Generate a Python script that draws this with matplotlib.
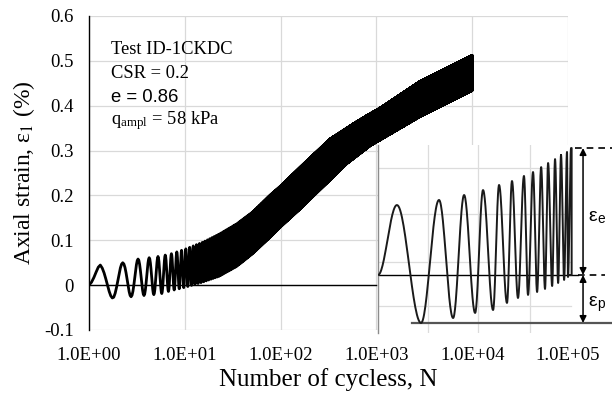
import matplotlib.pyplot as plt
import numpy as np

# main curve: upper / lower envelope of the cyclic strain
up_n = [1, 1.3, 2.3, 3.2, 5, 7, 10, 15.5, 23, 35, 51, 77, 100, 160, 330, 600, 860, 1100, 2850, 10000]
up_val = [0.0, 0.047, 0.050, 0.058, 0.063, 0.069, 0.080, 0.096, 0.114, 0.137, 0.163, 0.200,
          0.221, 0.263, 0.326, 0.362, 0.382, 0.395, 0.454, 0.512]
lo_n = [1, 1.8, 3.0, 5.5, 7, 10, 15.5, 23, 35, 51, 77, 100, 160, 218, 490, 860, 2850, 10000]
lo_val = [0.0, -0.030, -0.025, -0.020, -0.013, -0.005, 0.007, 0.020, 0.042, 0.070, 0.106,
          0.130, 0.170, 0.198, 0.271, 0.311, 0.376, 0.434]

# inset sketch: extrema of the schematic signal (normalised time, normalised strain)
peak_t = [0.098, 0.316, 0.446, 0.544, 0.627, 0.694, 0.756, 0.803, 0.845, 0.881, 0.917, 0.948, 0.979, 1.0]
peak_y = [0.551, 0.591, 0.630, 0.669, 0.709, 0.740, 0.780, 0.811, 0.850, 0.882, 0.913, 0.945, 0.969, 1.0]
trough_t = [0.223, 0.389, 0.503, 0.596, 0.668, 0.725, 0.777, 0.824, 0.865, 0.902, 0.933, 0.964, 0.984]
trough_y = [-0.378, -0.339, -0.299, -0.276, -0.220, -0.181, -0.157, -0.134, -0.110, -0.087, -0.063, -0.039, -0.016]

xticks = [1e0, 1e1, 1e2, 1e3, 1e4, 1e5]
xtick_labels = ["1.0E+00", "1.0E+01", "1.0E+02", "1.0E+03", "1.0E+04", "1.0E+05"]
yticks = [-0.1, 0, 0.1, 0.2, 0.3, 0.4, 0.5, 0.6]
ytick_labels = ["-0.1", "0", "0.1", "0.2", "0.3", "0.4", "0.5", "0.6"]

plt.rcParams["font.family"] = ["Liberation Serif", "DejaVu Serif"]
plt.rcParams["mathtext.fontset"] = "stix"

fig = plt.figure(figsize=(6.15, 3.96), dpi=100)
ax = fig.add_axes([89 / 615, 66 / 396, 479 / 615, 314 / 396])

# cyclic signal, one sine per load cycle
n = 1 + np.arange(0, 9999 * 16 + 1) / 16
u = np.interp(np.log10(n), np.log10(up_n), up_val)
lo = np.interp(np.log10(n), np.log10(lo_n), lo_val)
strain = (u + lo) / 2 + (u - lo) / 2 * np.sin(2 * np.pi * (n - 1))
ax.plot(n, strain, color="black", lw=2.0, zorder=3)
ax.plot([1, 1e3], [0, 0], color="black", lw=1.0, zorder=2)

ax.set_xscale("log")
ax.set_xlim(1, 1e5)
ax.set_ylim(-0.1, 0.6)
ax.set_xticks(xticks)
ax.set_xticklabels(xtick_labels)
ax.minorticks_off()
ax.set_yticks(yticks)
ax.set_yticklabels(ytick_labels)
ax.tick_params(axis="both", length=0, labelsize=13.5)
ax.tick_params(axis="x", pad=12)
ax.tick_params(axis="y", pad=11)
ax.grid(True, color="#d9d9d9", lw=0.9)
ax.set_axisbelow(True)
for s in ["top", "right", "bottom"]:
    ax.spines[s].set_visible(False)
ax.spines["left"].set_color("black")
ax.spines["left"].set_linewidth(1.0)
ax.set_xlabel("Number of cycless, N", fontsize=18, labelpad=3)
ax.set_ylabel("Axial strain, ε$_1$ (%)", fontsize=17, labelpad=5)

txt_kw = dict(transform=ax.transAxes, fontsize=13.3, va="center", ha="left")
ax.text(0.045, 0.893, "Test ID-1CKDC", **txt_kw)
ax.text(0.045, 0.818, "CSR = 0.2", **txt_kw)
ax.text(0.045, 0.742, "e = 0.86", family=["Liberation Sans", "DejaVu Sans"], **txt_kw)
ax.text(0.045, 0.665, "q$_{\\mathregular{ampl}}$ = 58 kPa", **txt_kw)

# inset sketch
ins = fig.add_axes([378 / 615, 63 / 396, 234 / 615, 188 / 396])
ins.set_xlim(0, 1.212)
ins.set_ylim(-0.457, 1.024)
ins.set_xticks([])
ins.set_yticks([])
for s in ["top", "right", "bottom"]:
    ins.spines[s].set_visible(False)
ins.spines["left"].set_color("#8c8c8c")
ins.spines["left"].set_linewidth(1.0)
ins.set_facecolor("white")

for gx in [0.259, 0.518, 0.788]:
    ins.plot([gx, gx], [-0.457, 1.024], color="#dcdcdc", lw=0.9, zorder=0)
for gy in [0.843, 0.480, 0.102, -0.244]:
    ins.plot([0, 1.0], [gy, gy], color="#dcdcdc", lw=0.9, zorder=0)

ext_t = [0.0]
ext_y = [0.0]
for i in range(len(peak_t)):
    ext_t.append(peak_t[i])
    ext_y.append(peak_y[i])
    if i < len(trough_t):
        ext_t.append(trough_t[i])
        ext_y.append(trough_y[i])
tt, yy = [], []
s = np.linspace(0, 1, 30)
for i in range(len(ext_t) - 1):
    tt.extend(ext_t[i] + (ext_t[i + 1] - ext_t[i]) * s)
    yy.extend(ext_y[i] + (ext_y[i + 1] - ext_y[i]) * (1 - np.cos(np.pi * s)) / 2)
tt += [1.003, 1.003, 0.985]
yy += [1.0, 0.0, 0.0]
ins.plot(tt, yy, color="#1a1a1a", lw=1.4, zorder=3)

ins.plot([0, 1.036], [0, 0], color="black", lw=1.0, zorder=2)
ins.plot([0.176, 1.212], [-0.378, -0.378], color="#555555", lw=1.6, zorder=2)
ins.plot([1.02, 1.212], [1.0, 1.0], color="black", lw=1.2, ls=(0, (4, 3)))
ins.plot([1.036, 1.176], [0, 0], color="black", lw=1.2, ls=(0, (4, 3)))
arrow = dict(arrowstyle="<|-|>", color="black", lw=1.1, mutation_scale=10, shrinkA=0, shrinkB=0)
ins.annotate("", xy=(1.062, 1.0), xytext=(1.062, 0.0), arrowprops=arrow)
ins.annotate("", xy=(1.062, 0.0), xytext=(1.062, -0.378), arrowprops=arrow)
sans = ["Liberation Sans", "DejaVu Sans"]
ins.text(1.09, 0.45, "ε$_\\mathregular{e}$", family=sans, fontsize=14, va="center", ha="left")
ins.text(1.09, -0.23, "ε$_\\mathregular{p}$", family=sans, fontsize=14, va="center", ha="left")

fig.savefig("out.png", dpi=100)
